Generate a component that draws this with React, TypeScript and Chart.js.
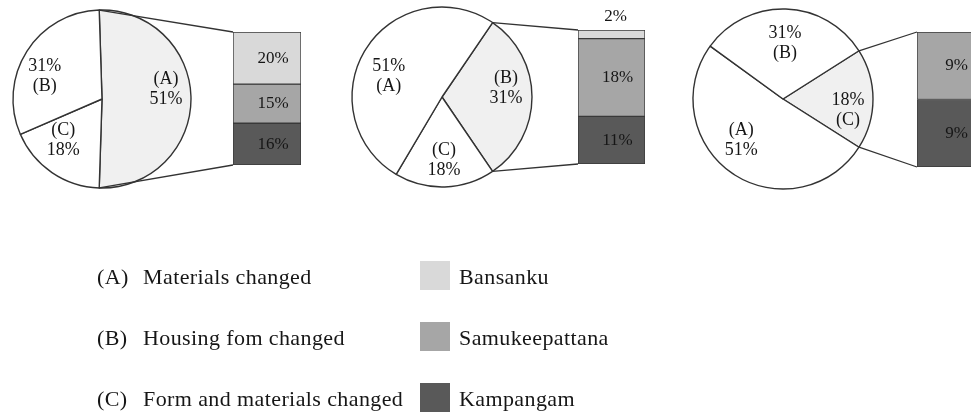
import React, { useEffect, useRef } from "react";
import { Chart, registerables } from "chart.js";

Chart.register(...registerables);

// ---- data ----
const GROUPS = ["(A)", "(B)", "(C)"];
const GROUP_NAMES = ["Materials changed", "Housing fom changed", "Form and materials changed"];
const VILLAGES = ["Bansanku", "Samukeepattana", "Kampangam"];

// pie shares of (A), (B), (C) in each panel
const PIE_1 = [51, 31, 18];
const PIE_2 = [51, 31, 18];
const PIE_3 = [51, 31, 18];

// breakdown of the exploded slice by village (Bansanku, Samukeepattana, Kampangam)
const BAR_1 = [20, 15, 16];
const BAR_2 = [2, 18, 11];
const BAR_3 = [0, 9, 9];

// ---- styling / layout ----
const VILLAGE_COLORS = ["#d9d9d9", "#a6a6a6", "#595959"];
const FONT = '"Liberation Serif", "Times New Roman", serif';
const TEXT = "#161616";
const LINE = "#333333";
const CW = 1000;
const CH = 414;

type Panel = {
  pie: number[];
  bar: number[];
  focus: number;
  order: number[];
  pctFirst: boolean[];
  cx: number;
  cy: number;
  r: number;
  box: { l: number; r: number; t: number; b: number };
  nudge: number[][];
};

const PANELS: Panel[] = [
  {
    pie: PIE_1, bar: BAR_1, focus: 0, order: [0, 2, 1], pctFirst: [false, true, false],
    cx: 102, cy: 99, r: 89, box: { l: 233, r: 301, t: 32, b: 165 },
    nudge: [[2, -10], [-5, 10], [-4, -10]],
  },
  {
    pie: PIE_2, bar: BAR_2, focus: 1, order: [1, 2, 0], pctFirst: [true, false, false],
    cx: 442, cy: 97, r: 90, box: { l: 578, r: 645, t: 30, b: 164 },
    nudge: [[-1, 12], [2, -9], [0, 1]],
  },
  {
    pie: PIE_3, bar: BAR_3, focus: 2, order: [2, 0, 1], pctFirst: [false, true, true],
    cx: 783, cy: 99, r: 90, box: { l: 917, r: 984, t: 32, b: 167 },
    nudge: [[-7, -10], [0, 6], [3, 11]],
  },
];

function makePie(canvas: HTMLCanvasElement, p: Panel) {
  const pad = 4;
  const labelPlugin = {
    id: "pieLabels",
    afterDatasetsDraw(chart: any) {
      const ctx = chart.ctx;
      const meta = chart.getDatasetMeta(0);
      ctx.save();
      ctx.font = `18px ${FONT}`;
      ctx.fillStyle = TEXT;
      ctx.textAlign = "center";
      ctx.textBaseline = "middle";
      meta.data.forEach((arc: any, k: number) => {
        const g = p.order[k];
        const { x, y, startAngle, endAngle } = arc.getProps(["x", "y", "startAngle", "endAngle"], true);
        const mid = (startAngle + endAngle) / 2;
        const px = x + 62 * Math.cos(mid) + p.nudge[g][0];
        const py = y + 62 * Math.sin(mid) + p.nudge[g][1];
        const pct = `${p.pie[g]}%`;
        const lines = p.pctFirst[g] ? [pct, GROUPS[g]] : [GROUPS[g], pct];
        ctx.fillText(lines[0], px, py - 10);
        ctx.fillText(lines[1], px, py + 10);
      });
      ctx.restore();
    },
  };
  return new Chart(canvas, {
    type: "pie",
    data: {
      labels: p.order.map((g) => GROUPS[g]),
      datasets: [
        {
          data: p.order.map((g) => p.pie[g]),
          backgroundColor: p.order.map((g) => (g === p.focus ? "#f0f0f0" : "#ffffff")),
          borderColor: LINE,
          borderWidth: 1.4,
          radius: p.r,
        } as any,
      ],
    },
    options: {
      responsive: false,
      animation: false,
      devicePixelRatio: 1,
      rotation: 90 - (p.pie[p.focus] * 3.6) / 2,
      layout: {
        padding: {
          left: p.cx - p.r - pad,
          right: CW - (p.cx + p.r + pad),
          top: p.cy - p.r - pad,
          bottom: CH - (p.cy + p.r + pad),
        },
      },
      plugins: { legend: { display: false }, tooltip: { enabled: false } },
      events: [],
    },
    plugins: [labelPlugin],
  });
}

function makeBar(canvas: HTMLCanvasElement, p: Panel, pie: Chart) {
  const total = p.bar.reduce((a, b) => a + b, 0);
  const focusIdx = p.order.indexOf(p.focus);
  const plugin = {
    id: "barExtras",
    afterDatasetsDraw(chart: any) {
      const ctx = chart.ctx;
      const area = chart.chartArea;
      ctx.save();
      // connector lines from the exploded slice to the bar
      const arc: any = pie.getDatasetMeta(0).data[focusIdx];
      const { x, y, startAngle, endAngle, outerRadius } = arc.getProps(
        ["x", "y", "startAngle", "endAngle", "outerRadius"], true);
      ctx.strokeStyle = LINE;
      ctx.lineWidth = 1.3;
      ctx.beginPath();
      ctx.moveTo(x + outerRadius * Math.cos(startAngle), y + outerRadius * Math.sin(startAngle));
      ctx.lineTo(area.left, area.top);
      ctx.moveTo(x + outerRadius * Math.cos(endAngle), y + outerRadius * Math.sin(endAngle));
      ctx.lineTo(area.left, area.bottom);
      ctx.stroke();
      // value labels
      ctx.font = `17px ${FONT}`;
      ctx.fillStyle = TEXT;
      ctx.textAlign = "center";
      ctx.textBaseline = "middle";
      p.bar.forEach((v, i) => {
        if (!v) return;
        const el: any = chart.getDatasetMeta(i).data[0];
        const { x: bx, y: by, base } = el.getProps(["x", "y", "base"], true);
        const top = Math.min(by, base);
        const bottom = Math.max(by, base);
        if (bottom - top < 16) {
          ctx.fillText(`${v}%`, bx + 4, area.top - 13);
        } else {
          ctx.fillText(`${v}%`, bx + 6, (top + bottom) / 2);
        }
      });
      ctx.restore();
    },
  };
  return new Chart(canvas, {
    type: "bar",
    data: {
      labels: [GROUPS[p.focus]],
      datasets: VILLAGES.map((v, i) => ({
        label: v,
        data: [p.bar[i]],
        backgroundColor: VILLAGE_COLORS[i],
        borderColor: "#3a3a3a",
        borderWidth: 1,
        borderSkipped: false,
        barPercentage: 1,
        categoryPercentage: 1,
      })),
    },
    options: {
      responsive: false,
      animation: false,
      devicePixelRatio: 1,
      layout: {
        padding: { left: p.box.l, right: CW - p.box.r, top: p.box.t, bottom: CH - p.box.b },
      },
      scales: {
        x: { display: false, stacked: true },
        y: { display: false, stacked: true, min: 0, max: total, reverse: true },
      },
      plugins: { legend: { display: false }, tooltip: { enabled: false } },
      events: [],
    },
    plugins: [plugin],
  });
}

const canvasStyle: React.CSSProperties = { position: "absolute", left: 0, top: 0, width: CW, height: CH };

export default function App() {
  const pieRefs = [useRef<HTMLCanvasElement>(null), useRef<HTMLCanvasElement>(null), useRef<HTMLCanvasElement>(null)];
  const barRefs = [useRef<HTMLCanvasElement>(null), useRef<HTMLCanvasElement>(null), useRef<HTMLCanvasElement>(null)];

  useEffect(() => {
    const charts: Chart[] = [];
    PANELS.forEach((p, i) => {
      const pie = makePie(pieRefs[i].current!, p);
      charts.push(pie);
      charts.push(makeBar(barRefs[i].current!, p, pie));
    });
    return () => charts.forEach((c) => c.destroy());
  }, []);

  const rowY = [277, 338, 399];
  const textStyle = (left: number, cy: number): React.CSSProperties => ({
    position: "absolute",
    left,
    top: cy - 13,
    lineHeight: "26px",
    fontSize: 22,
    letterSpacing: "0.4px",
    fontFamily: FONT,
    color: TEXT,
    whiteSpace: "nowrap",
  });

  return (
    <div style={{ position: "fixed", left: 0, top: 0, width: 971, height: 414, overflow: "hidden", background: "#fff" }}>
      {PANELS.map((_, i) => (
        <canvas key={`p${i}`} ref={pieRefs[i]} width={CW} height={CH} style={canvasStyle} />
      ))}
      {PANELS.map((_, i) => (
        <canvas key={`b${i}`} ref={barRefs[i]} width={CW} height={CH} style={canvasStyle} />
      ))}
      {GROUPS.map((g, i) => (
        <React.Fragment key={g}>
          <span style={textStyle(97, rowY[i])}>{g}</span>
          <span style={textStyle(143, rowY[i])}>{GROUP_NAMES[i]}</span>
        </React.Fragment>
      ))}
      {VILLAGES.map((v, i) => (
        <React.Fragment key={v}>
          <div
            style={{
              position: "absolute",
              left: 420,
              top: rowY[i] - 16,
              width: 30,
              height: 29,
              background: VILLAGE_COLORS[i],
            }}
          />
          <span style={textStyle(459, rowY[i])}>{v}</span>
        </React.Fragment>
      ))}
    </div>
  );
}
